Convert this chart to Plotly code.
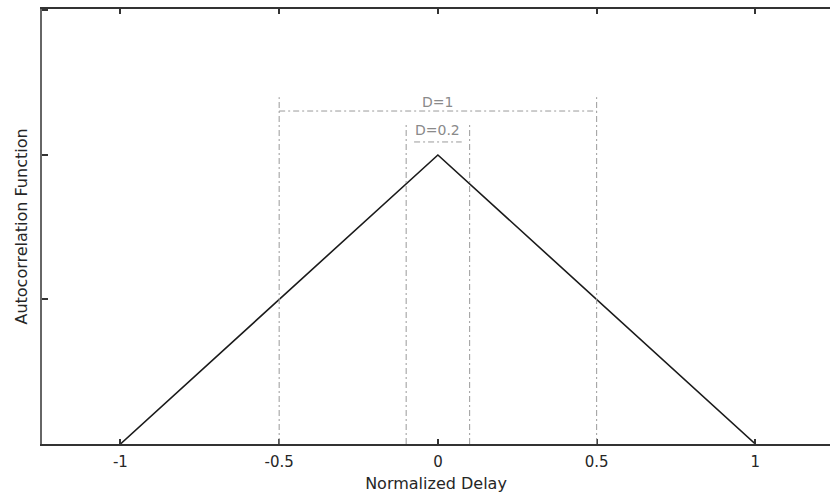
import plotly.graph_objects as go

# Triangular autocorrelation of a rectangular chip
delay = [-1.0, 0.0, 1.0]
acf = [0.0, 1.0, 0.0]

# Correlator spacings (normalized), and their labels
spacings = [1.0, 0.2]
spacing_labels = ["D=1", "D=0.2"]
# heights of the marker brackets for each spacing
bracket_top = [1.20, 1.11]
bracket_bar = [1.152, 1.045]
label_y = [1.183, 1.087]
bar_frac = [1.0, 0.75]

x_ticks = [-1, -0.5, 0, 0.5, 1]
x_ticklabels = ["-1", "-0.5", "0", "0.5", "1"]
y_ticks = [0, 0.5, 1, 1.5]

FONT = "DejaVu Sans"
GRAY = "#9a9a9a"
INK = "#262626"

fig = go.Figure()

fig.add_trace(go.Scatter(
    x=delay, y=acf, mode="lines",
    line=dict(color="#1a1a1a", width=1.6),
    showlegend=False, hoverinfo="skip",
))

shapes = []
annotations = []
for d, top, bar, ly, frac, lab in zip(spacings, bracket_top, bracket_bar,
                                       label_y, bar_frac, spacing_labels):
    h = d / 2
    for sx in (-h, h):
        shapes.append(dict(type="line", xref="x", yref="y",
                           x0=sx, x1=sx, y0=0, y1=top,
                           line=dict(color=GRAY, width=1, dash="6px,3px,2px,3px")))
    shapes.append(dict(type="line", xref="x", yref="y",
                       x0=-h * frac, x1=h * frac, y0=bar, y1=bar,
                       line=dict(color=GRAY, width=1, dash="6px,3px,2px,3px")))
    annotations.append(dict(x=0, y=ly, xref="x", yref="y", text=lab,
                            showarrow=False,
                            font=dict(family=FONT, size=14, color="#8a8a8a")))

fig.update_layout(
    width=830, height=493,
    margin=dict(l=42, r=0, t=9, b=49),
    paper_bgcolor="white", plot_bgcolor="white",
    shapes=shapes, annotations=annotations,
    font=dict(family=FONT, size=16, color=INK),
)

fig.update_xaxes(
    range=[-1.247, 1.235],
    tickvals=x_ticks, ticktext=x_ticklabels,
    ticks="inside", ticklen=5, tickwidth=1.5, tickcolor="#333333",
    showline=True, linecolor="#333333", linewidth=2, mirror="allticks",
    showgrid=False, zeroline=False, ticklabelstandoff=3,
    tickfont=dict(family=FONT, size=15, color=INK),
    title=dict(text="Normalized Delay", standoff=9,
               font=dict(family=FONT, size=16, color=INK)),
)
fig.update_yaxes(
    range=[0, 1.505],
    tickvals=y_ticks, showticklabels=False,
    ticks="inside", ticklen=6, tickwidth=1.5, tickcolor="#333333",
    showline=True, linecolor="#666666", linewidth=1.5, mirror=False,
    showgrid=False, zeroline=False,
    title=dict(text="Autocorrelation Function", standoff=9,
               font=dict(family=FONT, size=16, color=INK)),
)

fig.write_html("out.html")
